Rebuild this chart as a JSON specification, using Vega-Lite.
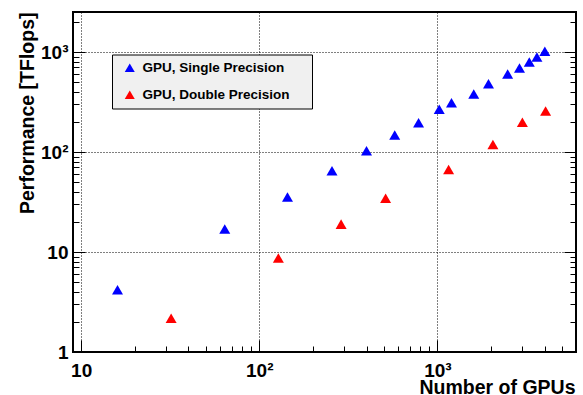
{
  "$schema": "https://vega.github.io/schema/vega-lite/v6.json",
  "autosize": {"type": "none"},
  "padding": {"left": 73, "top": 12, "right": 7, "bottom": 43},
  "width": 503,
  "height": 340,
  "background": "white",
  "config": {
    "font": "Liberation Sans",
    "view": {"stroke": "black", "strokeWidth": 2},
    "axis": {"domain": false, "labelFont": "Liberation Sans", "titleFont": "Liberation Sans"},
    "legend": {"strokeWidth": 1}
  },
  "data": {
    "values": [
      {"gpus": 16, "tflops": 4.2, "series": "GPU, Single Precision"},
      {"gpus": 64, "tflops": 17, "series": "GPU, Single Precision"},
      {"gpus": 144, "tflops": 35.5, "series": "GPU, Single Precision"},
      {"gpus": 256, "tflops": 65, "series": "GPU, Single Precision"},
      {"gpus": 400, "tflops": 103, "series": "GPU, Single Precision"},
      {"gpus": 576, "tflops": 148, "series": "GPU, Single Precision"},
      {"gpus": 784, "tflops": 196, "series": "GPU, Single Precision"},
      {"gpus": 1024, "tflops": 267, "series": "GPU, Single Precision"},
      {"gpus": 1200, "tflops": 311, "series": "GPU, Single Precision"},
      {"gpus": 1600, "tflops": 380, "series": "GPU, Single Precision"},
      {"gpus": 1936, "tflops": 482, "series": "GPU, Single Precision"},
      {"gpus": 2480, "tflops": 603, "series": "GPU, Single Precision"},
      {"gpus": 2890, "tflops": 692, "series": "GPU, Single Precision"},
      {"gpus": 3280, "tflops": 794, "series": "GPU, Single Precision"},
      {"gpus": 3620, "tflops": 891, "series": "GPU, Single Precision"},
      {"gpus": 4010, "tflops": 1016, "series": "GPU, Single Precision"},
      {"gpus": 32, "tflops": 2.17, "series": "GPU, Double Precision"},
      {"gpus": 128, "tflops": 8.7, "series": "GPU, Double Precision"},
      {"gpus": 288, "tflops": 19, "series": "GPU, Double Precision"},
      {"gpus": 512, "tflops": 34.4, "series": "GPU, Double Precision"},
      {"gpus": 1156, "tflops": 67, "series": "GPU, Double Precision"},
      {"gpus": 2050, "tflops": 119, "series": "GPU, Double Precision"},
      {"gpus": 3000, "tflops": 198, "series": "GPU, Double Precision"},
      {"gpus": 4050, "tflops": 257, "series": "GPU, Double Precision"}
    ]
  },
  "resolve": {"axis": {"x": "independent", "y": "independent"}},
  "layer": [
    {
      "mark": {"type": "point", "shape": "triangle-up", "filled": true, "opacity": 1, "size": 121},
      "encoding": {
        "x": {
          "field": "gpus", "type": "quantitative",
          "scale": {"type": "log", "domain": [9, 6000], "nice": false},
          "axis": {
            "orient": "bottom", "values": [10, 100, 1000], "ticks": false,
            "grid": true, "gridColor": "black", "gridDash": [1, 2], "gridWidth": 1, "gridOpacity": 1,
            "labelExpr": "datum.value == 10 ? '10' : datum.value == 100 ? '10²' : '10³'",
            "labelFontSize": 19, "labelFontWeight": "bold", "labelColor": "black",
            "labelBaseline": "alphabetic", "labelPadding": 24, "labelFlush": false, "labelOverlap": false,
            "title": "Number of GPUs", "titleFontSize": 19.5, "titleFontWeight": "bold", "titleColor": "black",
            "titleX": 502, "titleY": 41.5, "titleAlign": "right", "titleBaseline": "alphabetic", "titleAnchor": "end"
          }
        },
        "y": {
          "field": "tflops", "type": "quantitative",
          "scale": {"type": "log", "domain": [1, 2512], "nice": false},
          "axis": {
            "orient": "left", "values": [1, 10, 100, 1000], "ticks": false,
            "grid": true, "gridColor": "black", "gridDash": [1, 2], "gridWidth": 1, "gridOpacity": 1,
            "labelExpr": "datum.value == 1 ? '1' : datum.value == 10 ? '10' : datum.value == 100 ? '10²' : '10³'",
            "labelFontSize": 19, "labelFontWeight": "bold", "labelColor": "black",
            "labelBaseline": "middle", "labelPadding": 5, "labelFlush": false, "labelOverlap": false,
            "title": "Performance [TFlops]", "titleFontSize": 19.5, "titleFontWeight": "bold", "titleColor": "black",
            "titleX": -40, "titleY": 0, "titleAngle": -90, "titleAlign": "right", "titleBaseline": "alphabetic", "titleAnchor": "end"
          }
        },
        "color": {
          "field": "series", "type": "nominal",
          "scale": {"domain": ["GPU, Single Precision", "GPU, Double Precision"], "range": ["#0000ff", "#ff0000"]},
          "legend": {
            "orient": "none", "legendX": 39, "legendY": 42.5, "title": null,
            "fillColor": "#f0f0f0", "strokeColor": "black", "padding": 6.5,
            "symbolType": "triangle-up", "symbolSize": 100, "symbolStrokeWidth": 0, "symbolOpacity": 1,
            "symbolOffset": 4.5, "labelOffset": 6, "labelLimit": 400,
            "labelFont": "Liberation Sans", "labelFontSize": 13.5, "labelFontWeight": "bold", "labelColor": "black",
            "rowPadding": 12,
            "labelExpr": "datum.label + '\u00a0\u00a0\u00a0\u00a0\u200b'"
          }
        }
      }
    },
    {
      "mark": {"type": "point", "opacity": 0},
      "encoding": {
        "x": {"field": "gpus", "type": "quantitative",
          "axis": {"orient": "bottom", "values": [10, 100, 1000], "labels": false, "grid": false, "title": null, "tickSize": -12, "tickColor": "black", "tickWidth": 1}},
        "y": {"field": "tflops", "type": "quantitative",
          "axis": {"orient": "left", "values": [10, 100, 1000], "labels": false, "grid": false, "title": null, "tickSize": -12, "tickColor": "black", "tickWidth": 1}}
      }
    },
    {
      "mark": {"type": "point", "opacity": 0},
      "encoding": {
        "x": {"field": "gpus", "type": "quantitative",
          "axis": {"orient": "bottom", "values": [20, 30, 40, 50, 60, 70, 80, 90, 200, 300, 400, 500, 600, 700, 800, 900, 2000, 3000, 4000, 5000], "labels": false, "grid": false, "title": null, "tickSize": -6, "tickColor": "black", "tickWidth": 1}},
        "y": {"field": "tflops", "type": "quantitative",
          "axis": {"orient": "left", "values": [2, 3, 4, 5, 6, 7, 8, 9, 20, 30, 40, 50, 60, 70, 80, 90, 200, 300, 400, 500, 600, 700, 800, 900, 2000], "labels": false, "grid": false, "title": null, "tickSize": -6, "tickColor": "black", "tickWidth": 1}}
      }
    },
    {
      "mark": {"type": "point", "opacity": 0},
      "encoding": {
        "x": {"field": "gpus", "type": "quantitative", "axis": null},
        "y": {"field": "tflops", "type": "quantitative",
          "axis": {"orient": "right", "values": [10, 100, 1000], "labels": false, "grid": false, "title": null, "tickSize": -12, "tickColor": "black", "tickWidth": 1}}
      }
    },
    {
      "mark": {"type": "point", "opacity": 0},
      "encoding": {
        "x": {"field": "gpus", "type": "quantitative", "axis": null},
        "y": {"field": "tflops", "type": "quantitative",
          "axis": {"orient": "right", "values": [2, 3, 4, 5, 6, 7, 8, 9, 20, 30, 40, 50, 60, 70, 80, 90, 200, 300, 400, 500, 600, 700, 800, 900, 2000], "labels": false, "grid": false, "title": null, "tickSize": -6, "tickColor": "black", "tickWidth": 1}}
      }
    }
  ]
}
